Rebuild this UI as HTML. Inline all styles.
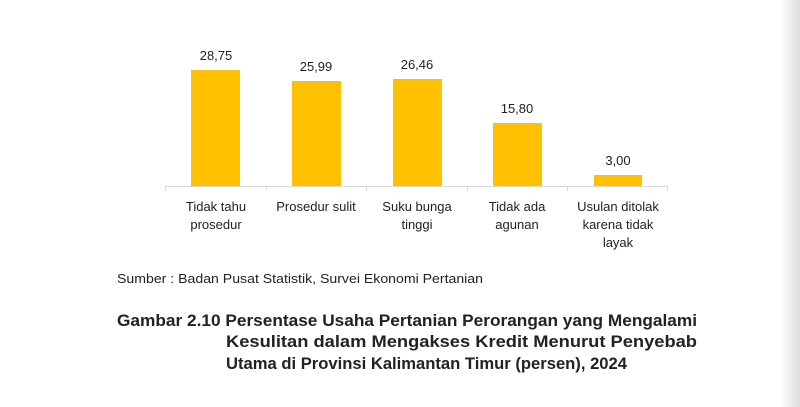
<!DOCTYPE html>
<html><head><meta charset="utf-8"><style>
html,body{margin:0;padding:0;background:#fff;}
svg{display:block;}
text{font-family:"Liberation Sans",sans-serif;fill:#222;}
</style></head><body>
<svg width="800" height="407" viewBox="0 0 800 407">
<defs><linearGradient id="g" x1="0" x2="1"><stop offset="0" stop-color="#fff"/><stop offset="1" stop-color="#ddd"/></linearGradient></defs>
<rect x="780" y="0" width="20" height="407" fill="url(#g)"/>
<g fill="#FFC000">
<rect x="191" y="70" width="49" height="116"/>
<rect x="292" y="81" width="49" height="105"/>
<rect x="393" y="79" width="49" height="107"/>
<rect x="493" y="123" width="49" height="63"/>
<rect x="594" y="175" width="48" height="11"/>
</g>
<g stroke="#d9d9d9" stroke-width="1">
<line x1="165" y1="186.5" x2="668" y2="186.5"/>
<line x1="165.5" y1="186" x2="165.5" y2="191"/>
<line x1="266.5" y1="186" x2="266.5" y2="191"/>
<line x1="366.5" y1="186" x2="366.5" y2="191"/>
<line x1="467.5" y1="186" x2="467.5" y2="191"/>
<line x1="567.5" y1="186" x2="567.5" y2="191"/>
<line x1="667.5" y1="186" x2="667.5" y2="191"/>
</g>
<g font-size="13" text-anchor="middle">
<text x="216" y="60">28,75</text>
<text x="316" y="71">25,99</text>
<text x="417" y="69">26,46</text>
<text x="517" y="113">15,80</text>
<text x="618" y="165">3,00</text>
<text x="216" y="211">Tidak tahu</text><text x="216" y="229">prosedur</text>
<text x="316" y="211">Prosedur sulit</text>
<text x="417" y="211">Suku bunga</text><text x="417" y="229">tinggi</text>
<text x="517" y="211">Tidak ada</text><text x="517" y="229">agunan</text>
<text x="618" y="211">Usulan ditolak</text><text x="618" y="229">karena tidak</text><text x="618" y="247">layak</text>
</g>
<text x="117" y="283" font-size="13" textLength="366" lengthAdjust="spacingAndGlyphs">Sumber : Badan Pusat Statistik, Survei Ekonomi Pertanian</text>
<g font-size="17" font-weight="bold">
<text x="117" y="326" textLength="580" lengthAdjust="spacingAndGlyphs">Gambar 2.10 Persentase Usaha Pertanian Perorangan yang Mengalami</text>
<text x="226" y="347" textLength="471" lengthAdjust="spacingAndGlyphs">Kesulitan dalam Mengakses Kredit Menurut Penyebab</text>
<text x="226" y="369" textLength="401" lengthAdjust="spacingAndGlyphs">Utama di Provinsi Kalimantan Timur (persen), 2024</text>
</g>
</svg>
</body></html>
